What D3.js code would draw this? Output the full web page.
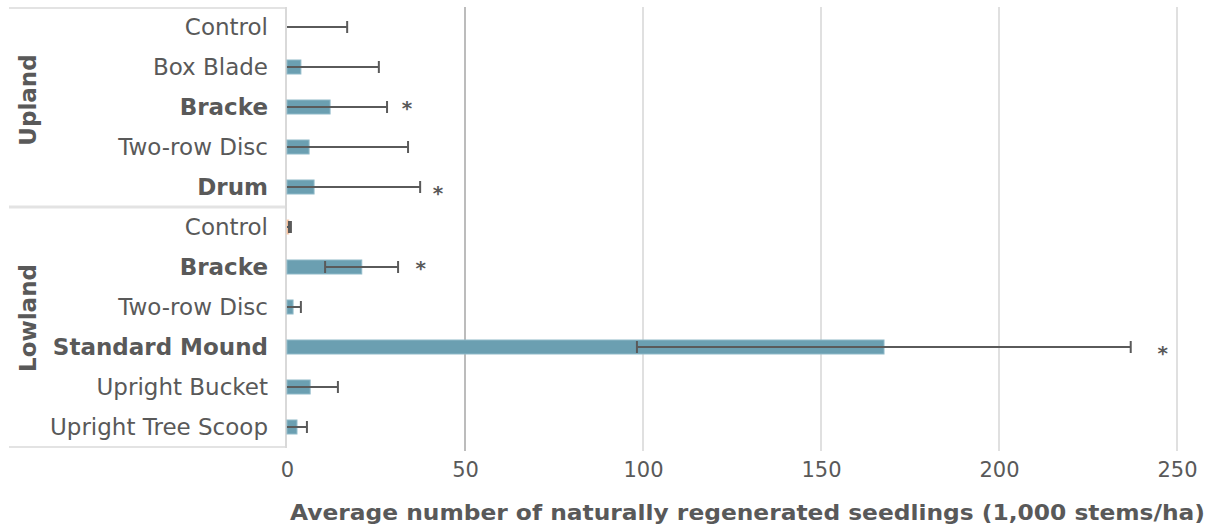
<!DOCTYPE html>
<html><head><meta charset="utf-8">
<script src="https://cdn.jsdelivr.net/npm/d3@7/dist/d3.min.js"></script>
<style>body{margin:0;background:#fff}svg{display:block}text{font-family:"DejaVu Sans",Verdana,sans-serif}</style>
</head><body><svg id="c" width="1209" height="527"></svg>
<script>
const groups = ["Upland","Lowland"];
const groupOf = ["Upland","Upland","Upland","Upland","Upland","Lowland","Lowland","Lowland","Lowland","Lowland","Lowland"];
const categories = ["Control","Box Blade","Bracke","Two-row Disc","Drum","Control","Bracke","Two-row Disc","Standard Mound","Upright Bucket","Upright Tree Scoop"];
const boldCat = [false,false,true,false,true,false,true,false,true,false,false];
const means = [0,3.9,12.1,6.2,7.6,0.5,21,1.7,167.7,6.5,2.8];
const errLow = [0,0,0,0,0,0,10.7,0,98.3,0,0];
const errHigh = [16.9,25.8,28.1,34,37.4,1.1,31.2,3.9,237,14.3,5.6];
const starAt = [null,null,33.7,null,42.4,null,37.6,null,246,null,null];
const xTicks = [0,50,100,150,200,250];
const xTitle = "Average number of naturally regenerated seedlings (1,000 stems/ha)";

(function(){
const svg = d3.select("#c");
const pL = 287, pR = 1177, pT = 7, pB = 447;
const x = d3.scaleLinear().domain([0,250]).range([pL,pR]);
const y = d3.scaleBand().domain(d3.range(categories.length)).range([pT,pB]).paddingInner(0.65).paddingOuter(0.325);
const grey = "#595959";

// gridlines
svg.append("g").selectAll("line").data(xTicks.filter(t=>t>0)).join("line")
  .attr("x1",d=>x(d)).attr("x2",d=>x(d)).attr("y1",pT).attr("y2",pB+4)
  .attr("stroke",d=>d===50?"#a6a6a6":"#e0e0e0").attr("stroke-width",d=>d===50?1.5:2);

// x axis labels
const xa = svg.append("g").attr("transform",`translate(0,${pB})`)
  .call(d3.axisBottom(x).tickValues(xTicks).tickSize(0).tickPadding(15));
xa.select(".domain").remove();
xa.selectAll("text").attr("font-size",21).attr("fill",grey).style("font-family","'DejaVu Sans',sans-serif");

// group boxes
const boxColor = "#e3e3e3";
const yb = i=>y(i)-y.step()*y.paddingInner()/2;
svg.append("line").attr("x1",9).attr("x2",pL-1).attr("y1",pT+1).attr("y2",pT+1).attr("stroke",boxColor).attr("stroke-width",2);
svg.append("line").attr("x1",9).attr("x2",pL-1).attr("y1",yb(5)).attr("y2",yb(5)).attr("stroke",boxColor).attr("stroke-width",3);
svg.append("line").attr("x1",9).attr("x2",pL-1).attr("y1",pB).attr("y2",pB).attr("stroke",boxColor).attr("stroke-width",2);
svg.append("line").attr("x1",pL-1).attr("x2",pL-1).attr("y1",pT).attr("y2",pB+1).attr("stroke","#d9d9d9").attr("stroke-width",2);

// category labels
svg.append("g").selectAll("text").data(categories).join("text")
  .attr("x",268).attr("y",(d,i)=>y(i)+y.bandwidth()/2).attr("dy","0.35em")
  .attr("text-anchor","end").attr("font-size",23).attr("fill",grey)
  .attr("font-weight",(d,i)=>boldCat[i]?"bold":"normal").text(d=>d);

// group labels
groups.forEach(g=>{
  const idx = d3.range(categories.length).filter(i=>groupOf[i]===g);
  const cy = (yb(idx[0]) + yb(idx[idx.length-1]) + y.step())/2;
  svg.append("text").attr("transform",`translate(28,${cy+(g==="Upland"?-7:-9)}) rotate(-90)`)
    .attr("text-anchor","middle").attr("dy","0.35em").attr("font-size",23).attr("font-weight","bold")
    .attr("fill",grey).text(g);
});

// bars
svg.append("g").selectAll("rect").data(means).join("rect")
  .attr("x",x(0)).attr("y",(d,i)=>y(i)+y.bandwidth()/2-7)
  .attr("width",d=>x(d)-x(0)).attr("height",14)
  .attr("fill",(d,i)=>i===5?"#f4b183":"#6b9fb1")
  .attr("stroke",(d,i)=>i===5?"#f8cbad":"#8fb9c8").attr("stroke-width",1);

// error bars
const eb = svg.append("g").attr("stroke","#5a5a5a").attr("stroke-width",2);
categories.forEach((c,i)=>{
  const cy = y(i)+y.bandwidth()/2;
  eb.append("line").attr("x1",x(errLow[i])).attr("x2",x(errHigh[i])).attr("y1",cy).attr("y2",cy);
  eb.append("line").attr("x1",x(errHigh[i])).attr("x2",x(errHigh[i])).attr("y1",cy-6).attr("y2",cy+6);
  if (errLow[i]>0 || i===5) eb.append("line").attr("x1",x(errLow[i])+(i===5?2:0)).attr("x2",x(errLow[i])+(i===5?2:0)).attr("y1",cy-6).attr("y2",cy+6);
});

// stars
svg.append("g").selectAll("text").data(d3.range(categories.length).filter(i=>starAt[i]!==null)).join("text")
  .attr("x",i=>x(starAt[i])).attr("y",i=>y(i)+y.bandwidth()/2+(i===4||i===8?13:8))
  .attr("text-anchor","middle").attr("font-size",20).attr("font-weight","bold").attr("fill",grey).text("*");

// x title
svg.append("text").attr("x",(290+1205)/2).attr("y",520).attr("text-anchor","middle")
  .attr("font-size",21).attr("font-weight","bold").attr("fill",grey)
  .attr("textLength",915).attr("lengthAdjust","spacingAndGlyphs").text(xTitle);
})();
</script></body></html>
